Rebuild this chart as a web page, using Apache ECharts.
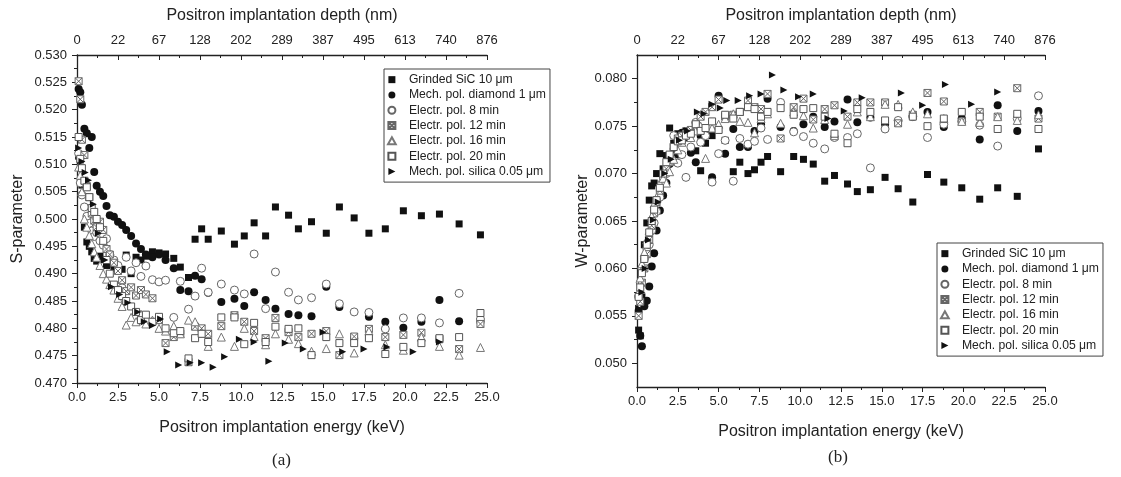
<!DOCTYPE html>
<html>
<head>
<meta charset="utf-8">
<script src="https://cdn.jsdelivr.net/npm/echarts@6/dist/echarts.min.js"></script>
<style>
html, body { margin: 0; padding: 0; background: #fff; }
#chart { width: 1121px; height: 477px; }
</style>
</head>
<body>
<div id="chart"></div>
<script>
// energies (keV) shared by most series
var energy = [0.1, 0.2, 0.3, 0.45, 0.6, 0.75, 0.9, 1.05, 1.2, 1.4,
    1.6, 1.8, 2.0, 2.25, 2.5, 2.75, 3.0, 3.3, 3.6, 3.9,
    4.2, 4.6, 5.0, 5.4, 5.9, 6.3, 6.8, 7.2, 7.6, 8.0,
    8.8, 9.6, 10.2, 10.8, 11.5, 12.1, 12.9, 13.5, 14.3, 15.2,
    16.0, 16.9, 17.8, 18.8, 19.9, 21.0, 22.1, 23.3, 24.6];
// silica sample measured on its own energy steps
var energySilica = [0.1, 0.3, 0.5, 0.7, 1.0, 1.3, 1.7, 2.1, 2.6, 3.1,
    3.7, 4.1, 4.6, 5.1, 5.5, 6.2, 6.9, 7.6, 8.3, 9.0,
    9.9, 10.8, 11.7, 12.7, 13.8, 15.0, 16.2, 17.5, 18.9, 20.5, 22.1];

var depthLabels = ['0', '22', '67', '128', '202', '289', '387', '495', '613', '740', '876'];

var names = ['Grinded SiC 10 \u03bcm', 'Mech. pol. diamond 1 \u03bcm', 'Electr. pol. 8 min',
    'Electr. pol. 12 min', 'Electr. pol. 16 min', 'Electr. pol. 20 min', 'Mech. pol. silica 0.05 \u03bcm'];

// S-parameter (a)
var sGrinded = [0.5115, 0.5108, 0.5062, 0.4985, 0.4958, 0.4950, 0.4940, 0.4928, 0.4923, 0.4932,
    0.4926, 0.4915, 0.4918, 0.4910, 0.4912, 0.4908, 0.4934, 0.4900, 0.4930, 0.4925,
    0.4932, 0.4940, 0.4938, 0.4936, 0.4928, 0.4912, 0.4893, 0.4963, 0.4982, 0.4963,
    0.4978, 0.4954, 0.4969, 0.4993, 0.4969, 0.5022, 0.5007, 0.4982, 0.4995, 0.4974,
    0.5022, 0.5002, 0.4974, 0.4982, 0.5015, 0.5006, 0.5009, 0.4991, 0.4971];
var sDiamond = [0.5238, 0.5232, 0.5209, 0.5165, 0.5157, 0.5130, 0.5150, 0.5086, 0.5061, 0.5050,
    0.5042, 0.5024, 0.5007, 0.5004, 0.4995, 0.4989, 0.4980, 0.4969, 0.4955, 0.4945,
    0.4935, 0.4930, 0.4935, 0.4925, 0.4910, 0.4870, 0.4868, 0.4896, 0.4890, 0.4865,
    0.4848, 0.4854, 0.4841, 0.4866, 0.4852, 0.4836, 0.4826, 0.4824, 0.4822, 0.4876,
    0.4839, 0.4782, 0.4821, 0.4812, 0.4801, 0.4812, 0.4852, 0.4813, 0.4812];
var s8min = [0.5120, 0.5066, 0.5044, 0.5022, 0.5005, 0.4992, 0.4978, 0.4968, 0.4975, 0.4960,
    0.4952, 0.4964, 0.4935, 0.4925, 0.4915, 0.4874, 0.4930, 0.4905, 0.4920, 0.4895,
    0.4914, 0.4889, 0.4885, 0.4888, 0.4820, 0.4886, 0.4835, 0.4859, 0.4910, 0.4866,
    0.4881, 0.4870, 0.4863, 0.4936, 0.4836, 0.4903, 0.4866, 0.4852, 0.4856, 0.4881,
    0.4845, 0.4830, 0.4829, 0.4799, 0.4819, 0.4819, 0.4810, 0.4864, 0.4817];
var s12min = [0.5252, 0.5219, 0.5145, 0.5117, 0.5060, 0.5040, 0.5010, 0.4997, 0.4985, 0.4995,
    0.4980, 0.4945, 0.4935, 0.4920, 0.4905, 0.4888, 0.4868, 0.4875, 0.4860, 0.4870,
    0.4862, 0.4855, 0.4815, 0.4773, 0.4784, 0.4790, 0.4738, 0.4803, 0.4800, 0.4790,
    0.4804, 0.4824, 0.4812, 0.4795, 0.4782, 0.4819, 0.4793, 0.4784, 0.4790, 0.4795,
    0.4751, 0.4785, 0.4799, 0.4784, 0.4788, 0.4792, 0.4780, 0.4762, 0.4808];
var s16min = [0.5095, 0.5080, 0.5050, 0.5000, 0.4985, 0.4970, 0.4955, 0.4940, 0.4930, 0.4915,
    0.4900, 0.4890, 0.4880, 0.4870, 0.4855, 0.4840, 0.4806, 0.4820, 0.4812, 0.4826,
    0.4808, 0.4815, 0.4800, 0.4795, 0.4804, 0.4790, 0.4815, 0.4812, 0.4791, 0.4767,
    0.4784, 0.4767, 0.4800, 0.4785, 0.4770, 0.4790, 0.4780, 0.4772, 0.4758, 0.4763,
    0.4790, 0.4755, 0.4795, 0.4770, 0.4760, 0.4784, 0.4767, 0.4751, 0.4765];
var s20min = [0.5150, 0.5110, 0.5093, 0.5070, 0.5058, 0.5040, 0.5020, 0.5013, 0.5000, 0.4985,
    0.4960, 0.4925, 0.4900, 0.4880, 0.4870, 0.4859, 0.4850, 0.4840, 0.4830, 0.4815,
    0.4825, 0.4812, 0.4821, 0.4800, 0.4791, 0.4795, 0.4745, 0.4782, 0.4790, 0.4775,
    0.4820, 0.4820, 0.4771, 0.4810, 0.4775, 0.4803, 0.4799, 0.4800, 0.4751, 0.4784,
    0.4773, 0.4773, 0.4782, 0.4753, 0.4766, 0.4773, 0.4782, 0.4784, 0.4828];
var sSilica = [0.5130, 0.5105, 0.5085, 0.5071, 0.5027, 0.4974, 0.4925, 0.4876, 0.4862, 0.4847,
    0.4830, 0.4812, 0.4805, 0.4817, 0.4757, 0.4733, 0.4737, 0.4737, 0.4729, 0.4748,
    0.4780, 0.4775, 0.4740, 0.4773, 0.4762, 0.4793, 0.4757, 0.4762, 0.4766, 0.4757, 0.4775];

// W-parameter (b)
var wGrinded = [0.0535, 0.0529, 0.0570, 0.0625, 0.0648, 0.0672, 0.0687, 0.0690, 0.0700, 0.0721,
    0.0705, 0.0719, 0.0748, 0.0732, 0.0742, 0.0738, 0.0745, 0.0745, 0.0724, 0.0703,
    0.0732, 0.0740, 0.0746, 0.0735, 0.0702, 0.0712, 0.0700, 0.0704, 0.0712, 0.0718,
    0.0702, 0.0718, 0.0715, 0.0710, 0.0692, 0.0698, 0.0689, 0.0681, 0.0683, 0.0696,
    0.0684, 0.0670, 0.0699, 0.0691, 0.0685, 0.0673, 0.0685, 0.0676, 0.0726];
var wDiamond = [0.0555, 0.0529, 0.0518, 0.0560, 0.0566, 0.0581, 0.0602, 0.0616, 0.0640, 0.0661,
    0.0677, 0.0690, 0.0710, 0.0726, 0.0720, 0.0743, 0.0738, 0.0722, 0.0712, 0.0740,
    0.0745, 0.0696, 0.0782, 0.0721, 0.0747, 0.0728, 0.0728, 0.0745, 0.0752, 0.0779,
    0.0749, 0.0745, 0.0752, 0.0760, 0.0749, 0.0755, 0.0778, 0.0754, 0.0759, 0.0752,
    0.0755, 0.0760, 0.0765, 0.0749, 0.0758, 0.0736, 0.0772, 0.0745, 0.0766];
var w8min = [0.0570, 0.0585, 0.0600, 0.0610, 0.0621, 0.0625, 0.0640, 0.0648, 0.0660, 0.0675,
    0.0690, 0.0700, 0.0712, 0.0740, 0.0711, 0.0720, 0.0696, 0.0728, 0.0754, 0.0733,
    0.0740, 0.0691, 0.0721, 0.0735, 0.0692, 0.0737, 0.0731, 0.0734, 0.0748, 0.0736,
    0.0775, 0.0744, 0.0739, 0.0732, 0.0726, 0.0738, 0.0738, 0.0742, 0.0706, 0.0747,
    0.0756, 0.0760, 0.0738, 0.0752, 0.0755, 0.0751, 0.0729, 0.0758, 0.0782];
var w12min = [0.0550, 0.0565, 0.0585, 0.0600, 0.0615, 0.0630, 0.0645, 0.0658, 0.0670, 0.0682,
    0.0695, 0.0705, 0.0712, 0.0728, 0.0737, 0.0740, 0.0742, 0.0746, 0.0750, 0.0760,
    0.0765, 0.0770, 0.0778, 0.0760, 0.0762, 0.0765, 0.0777, 0.0770, 0.0768, 0.0784,
    0.0737, 0.0770, 0.0779, 0.0757, 0.0768, 0.0772, 0.0760, 0.0775, 0.0775, 0.0775,
    0.0753, 0.0762, 0.0785, 0.0776, 0.0755, 0.0765, 0.0760, 0.0790, 0.0758];
var w16min = [0.0575, 0.0590, 0.0605, 0.0617, 0.0630, 0.0640, 0.0655, 0.0668, 0.0675, 0.0690,
    0.0695, 0.0690, 0.0702, 0.0715, 0.0725, 0.0733, 0.0740, 0.0738, 0.0745, 0.0750,
    0.0716, 0.0748, 0.0752, 0.0758, 0.0763, 0.0755, 0.0754, 0.0743, 0.0758, 0.0763,
    0.0753, 0.0765, 0.0761, 0.0748, 0.0757, 0.0740, 0.0752, 0.0765, 0.0760, 0.0773,
    0.0773, 0.0765, 0.0763, 0.0758, 0.0755, 0.0754, 0.0760, 0.0756, 0.0762];
var w20min = [0.0570, 0.0580, 0.0595, 0.0610, 0.0625, 0.0638, 0.0650, 0.0662, 0.0672, 0.0685,
    0.0700, 0.0712, 0.0720, 0.0728, 0.0734, 0.0735, 0.0740, 0.0742, 0.0752, 0.0745,
    0.0748, 0.0755, 0.0746, 0.0762, 0.0758, 0.0765, 0.0770, 0.0768, 0.0760, 0.0765,
    0.0769, 0.0762, 0.0768, 0.0769, 0.0760, 0.0742, 0.0732, 0.0768, 0.0765, 0.0756,
    0.0770, 0.0760, 0.0750, 0.0758, 0.0765, 0.0760, 0.0747, 0.0763, 0.0747];
var wSilica = [0.0558, 0.0575, 0.0600, 0.0630, 0.0651, 0.0670, 0.0700, 0.0715, 0.0735, 0.0745,
    0.0765, 0.0763, 0.0773, 0.0769, 0.0777, 0.0777, 0.0782, 0.0784, 0.0804, 0.0788,
    0.0781, 0.0784, 0.0758, 0.0766, 0.0780, null, 0.0785, 0.0772, 0.0794, 0.0773, 0.0786];

var FONT = '"Liberation Sans", Arial, sans-serif';
var INK = '#222';

// marker style of each sample, same order as names
// (path symbols keep their aspect in the legend too)
var markers = [
    { symbol: 'path://M0,0H10V10H0Z', size: 7, fill: '#111', edge: '#111' },
    { symbol: 'circle', size: 8, fill: '#111', edge: '#111' },
    { symbol: 'circle', size: 8, fill: '#fff', edge: '#666' },
    { symbol: 'path://M0,0H10V10H0Z M0,0L10,10 M10,0L0,10', size: 7, fill: '#fff', edge: '#666' },
    { symbol: 'path://M5,0L10,9L0,9Z', size: 8, fill: '#fff', edge: '#777' },
    { symbol: 'path://M0,0H10V10H0Z', size: 7, fill: '#fff', edge: '#555' },
    { symbol: 'path://M0,0L10,5L0,10Z', size: 7, fill: '#111', edge: '#111' }
];

// x,y pairs, skipping missing points
function pairs(xs, ys) {
    var out = [];
    for (var i = 0; i < xs.length; i++) {
        if (ys[i] != null) {
            out.push([xs[i], ys[i]]);
        }
    }
    return out;
}

function makeSeries(idx, xs, ys, xi, yi) {
    var m = markers[idx];
    return {
        name: names[idx],
        type: 'scatter',
        xAxisIndex: xi,
        yAxisIndex: yi,
        symbol: m.symbol,
        symbolSize: m.size,
        itemStyle: { color: m.fill, borderColor: m.edge, borderWidth: m.fill == '#fff' ? 1 : 0, opacity: 1 },
        emphasis: { disabled: true },
        data: pairs(xs, ys)
    };
}

function xAxisCfg(gridIndex, pos) {
    var top = pos == 'top';
    return {
        type: 'value', gridIndex: gridIndex, position: pos,
        min: 0, max: 25, interval: 2.5,
        name: top ? 'Positron implantation depth (nm)' : 'Positron implantation energy (keV)',
        nameLocation: 'middle', nameGap: top ? 31 : 37,
        nameTextStyle: { fontFamily: FONT, fontSize: 16, color: INK },
        axisLine: { show: true, onZero: false, lineStyle: { color: INK, width: 1.3 } },
        axisTick: { show: true, inside: top, length: 5, lineStyle: { color: INK } },
        minorTick: { show: true, splitNumber: 2, length: 3, lineStyle: { color: INK } },
        splitLine: { show: false },
        axisLabel: {
            fontFamily: FONT, fontSize: 13, color: INK, margin: 8,
            formatter: top ? function (v) { return depthLabels[Math.round(v / 2.5)]; }
                : function (v) { return v.toFixed(1); }
        }
    };
}

function legendCfg(left, top) {
    return {
        left: left, top: top, orient: 'vertical', data: names,
        backgroundColor: '#fff', borderColor: '#444', borderWidth: 1, borderRadius: 0,
        padding: [4, 4, 4, 3], itemWidth: 24, itemHeight: 7, itemGap: 2,
        selectedMode: false,
        textStyle: { fontFamily: FONT, fontSize: 12.2, color: INK, lineHeight: 13.3 }
    };
}

var wMajor = [0.050, 0.055, 0.060, 0.065, 0.070, 0.075, 0.080];
var wMinor = [0.0525, 0.0575, 0.0625, 0.0675, 0.0725, 0.0775];

var series = [];
var sLeft = [sGrinded, sDiamond, s8min, s12min, s16min, s20min];
var wRight = [wGrinded, wDiamond, w8min, w12min, w16min, w20min];
for (var k = 0; k < 6; k++) {
    series.push(makeSeries(k, energy, sLeft[k], 0, 0));
}
series.push(makeSeries(6, energySilica, sSilica, 0, 0));
for (var k = 0; k < 6; k++) {
    series.push(makeSeries(k, energy, wRight[k], 2, 1));
}
series.push(makeSeries(6, energySilica, wSilica, 2, 1));

var option = {
    animation: false,
    backgroundColor: '#fff',
    grid: [
        { left: 77, top: 55, width: 410, height: 328 },
        { left: 637, top: 55, width: 408, height: 332 }
    ],
    xAxis: [xAxisCfg(0, 'bottom'), xAxisCfg(0, 'top'), xAxisCfg(1, 'bottom'), xAxisCfg(1, 'top')],
    yAxis: [
        {
            type: 'value', gridIndex: 0, min: 0.47, max: 0.53, interval: 0.005,
            name: 'S-parameter', nameLocation: 'middle', nameGap: 51,
            nameTextStyle: { fontFamily: FONT, fontSize: 16, color: INK },
            axisLine: { show: true, lineStyle: { color: INK, width: 1.3 } },
            axisTick: { show: true, length: 5, lineStyle: { color: INK } },
            minorTick: { show: true, splitNumber: 2, length: 3, lineStyle: { color: INK } },
            splitLine: { show: false },
            axisLabel: { fontFamily: FONT, fontSize: 13, color: INK, margin: 10,
                formatter: function (v) { return v.toFixed(3); } }
        },
        {
            type: 'value', gridIndex: 1, min: 0.0475, max: 0.0825,
            name: 'W-parameter', nameLocation: 'middle', nameGap: 41,
            nameTextStyle: { fontFamily: FONT, fontSize: 16, color: INK },
            axisLine: { show: true, lineStyle: { color: INK, width: 1.3 } },
            axisTick: { show: true, length: 5, customValues: wMajor, lineStyle: { color: INK } },
            splitLine: { show: false },
            axisLabel: { fontFamily: FONT, fontSize: 13, color: INK, margin: 10, customValues: wMajor,
                formatter: function (v) { return v.toFixed(3); } }
        },
        {
            // short ticks between W labels
            type: 'value', gridIndex: 1, min: 0.0475, max: 0.0825, position: 'left',
            axisLine: { show: false },
            axisTick: { show: true, length: 3, customValues: wMinor, lineStyle: { color: INK } },
            axisLabel: { show: false },
            splitLine: { show: false }
        }
    ],
    legend: [legendCfg(384, 69), legendCfg(937, 243)],
    graphic: [
        { type: 'text', left: 272, top: 452, style: { text: '(a)', fontFamily: '"Liberation Serif", serif', fontSize: 17, fill: INK } },
        { type: 'text', left: 828, top: 449, style: { text: '(b)', fontFamily: '"Liberation Serif", serif', fontSize: 17, fill: INK } }
    ],
    series: series
};

var myChart = echarts.init(document.getElementById('chart'));
myChart.setOption(option);
</script>
</body>
</html>
